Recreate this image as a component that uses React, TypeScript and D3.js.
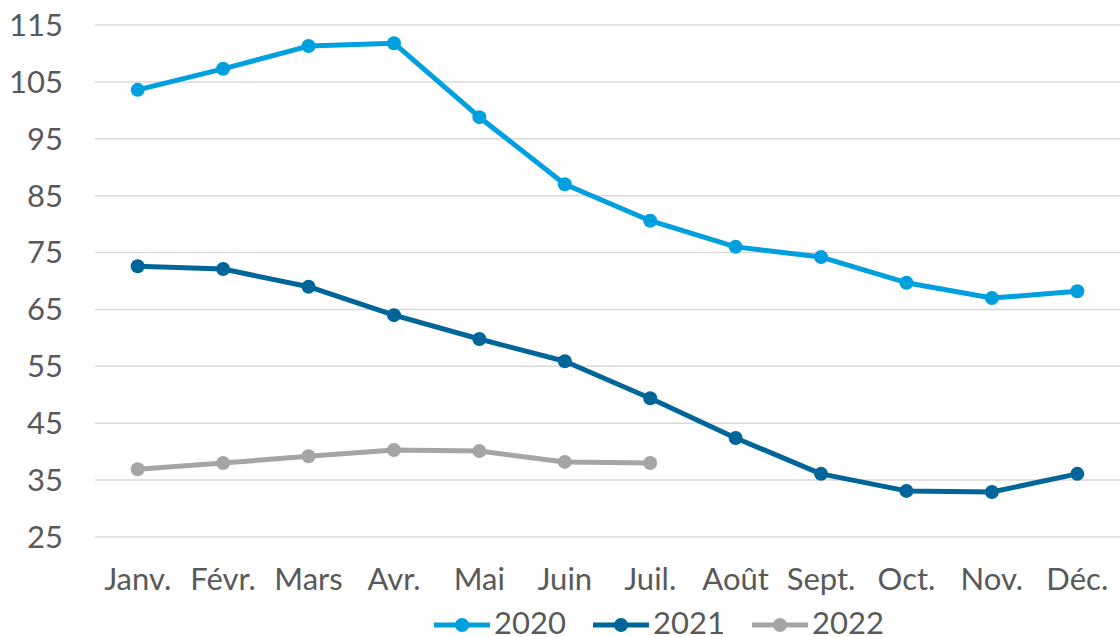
import React, { useRef, useEffect } from 'react';
import * as d3 from 'd3';

const months: string[] = ['Janv.', 'Févr.', 'Mars', 'Avr.', 'Mai', 'Juin', 'Juil.', 'Août', 'Sept.', 'Oct.', 'Nov.', 'Déc.'];
const values2020: number[] = [103.6, 107.3, 111.3, 111.8, 98.8, 87.0, 80.6, 76.0, 74.2, 69.7, 67.0, 68.2];
const values2021: number[] = [72.6, 72.1, 69.0, 64.0, 59.8, 55.9, 49.4, 42.4, 36.1, 33.1, 32.9, 36.1];
const values2022: number[] = [36.9, 38.0, 39.2, 40.3, 40.1, 38.2, 38.0];
const yTicks: number[] = [25, 35, 45, 55, 65, 75, 85, 95, 105, 115];

const seriesNames = ['2020', '2021', '2022'];
const colors = ['#009fdd', '#006699', '#a5a5a5'];

const LineChart: React.FC = () => {
  const svgRef = useRef<SVGSVGElement | null>(null);

  useEffect(() => {
    if (!svgRef.current) return;
    const width = 1120;
    const height = 637;
    const margin = { top: 25, right: 0, bottom: 100, left: 95 };

    const xScale = d3.scaleBand<string>()
      .domain(months)
      .range([margin.left, width - margin.right]);

    const yScale = d3.scaleLinear()
      .domain([25, 115])
      .range([height - margin.bottom, margin.top]);

    const svg = d3.select(svgRef.current)
      .attr('width', width)
      .attr('height', height);

    svg.selectAll('*').remove();

    const font = 'Lato, "Noto Sans", sans-serif';
    const textColor = '#595959';
    const fontSize = 31;

    // grid
    svg.append('g')
      .selectAll('line')
      .data(yTicks)
      .join('line')
      .attr('x1', margin.left)
      .attr('x2', width - margin.right)
      .attr('y1', d => yScale(d))
      .attr('y2', d => yScale(d))
      .attr('stroke', '#d9d9d9')
      .attr('stroke-width', 1.5);

    // y labels
    svg.append('g')
      .selectAll('text')
      .data(yTicks)
      .join('text')
      .attr('x', 63)
      .attr('y', d => yScale(d))
      .attr('dy', '0.35em')
      .attr('text-anchor', 'end')
      .attr('font-family', font)
      .attr('font-size', fontSize)
      .attr('fill', textColor)
      .text(d => String(d));

    // x labels
    svg.append('g')
      .selectAll('text')
      .data(months)
      .join('text')
      .attr('x', d => (xScale(d) as number) + xScale.bandwidth() / 2)
      .attr('y', 579)
      .attr('dy', '0.35em')
      .attr('text-anchor', 'middle')
      .attr('font-family', font)
      .attr('font-size', fontSize)
      .attr('fill', textColor)
      .text(d => d);

    const allSeries = [values2020, values2021, values2022];
    const cx = (i: number) => (xScale(months[i]) as number) + xScale.bandwidth() / 2;

    const line = d3.line<number>()
      .x((_, i) => cx(i))
      .y(d => yScale(d));

    allSeries.forEach((vals, s) => {
      svg.append('path')
        .datum(vals)
        .attr('fill', 'none')
        .attr('stroke', colors[s])
        .attr('stroke-width', 5)
        .attr('stroke-linejoin', 'round')
        .attr('d', line);
      svg.append('g')
        .selectAll('circle')
        .data(vals)
        .join('circle')
        .attr('cx', (_, i) => cx(i))
        .attr('cy', d => yScale(d))
        .attr('r', 7)
        .attr('fill', colors[s]);
    });

    // legend
    const legendX = [434, 593, 752];
    const ly = 623;
    const legend = svg.append('g');
    seriesNames.forEach((name, s) => {
      const x0 = legendX[s];
      legend.append('line')
        .attr('x1', x0).attr('x2', x0 + 56)
        .attr('y1', ly + 2).attr('y2', ly + 2)
        .attr('stroke', colors[s])
        .attr('stroke-width', 5);
      legend.append('circle')
        .attr('cx', x0 + 28).attr('cy', ly + 2).attr('r', 7)
        .attr('fill', colors[s]);
      legend.append('text')
        .attr('x', x0 + 60)
        .attr('y', ly)
        .attr('dy', '0.35em')
        .attr('font-family', font)
        .attr('font-size', fontSize)
        .attr('fill', textColor)
        .text(name);
    });
  }, []);

  return <svg ref={svgRef} style={{ position: 'absolute', left: 0, top: 0 }}></svg>;
};

export default LineChart;
